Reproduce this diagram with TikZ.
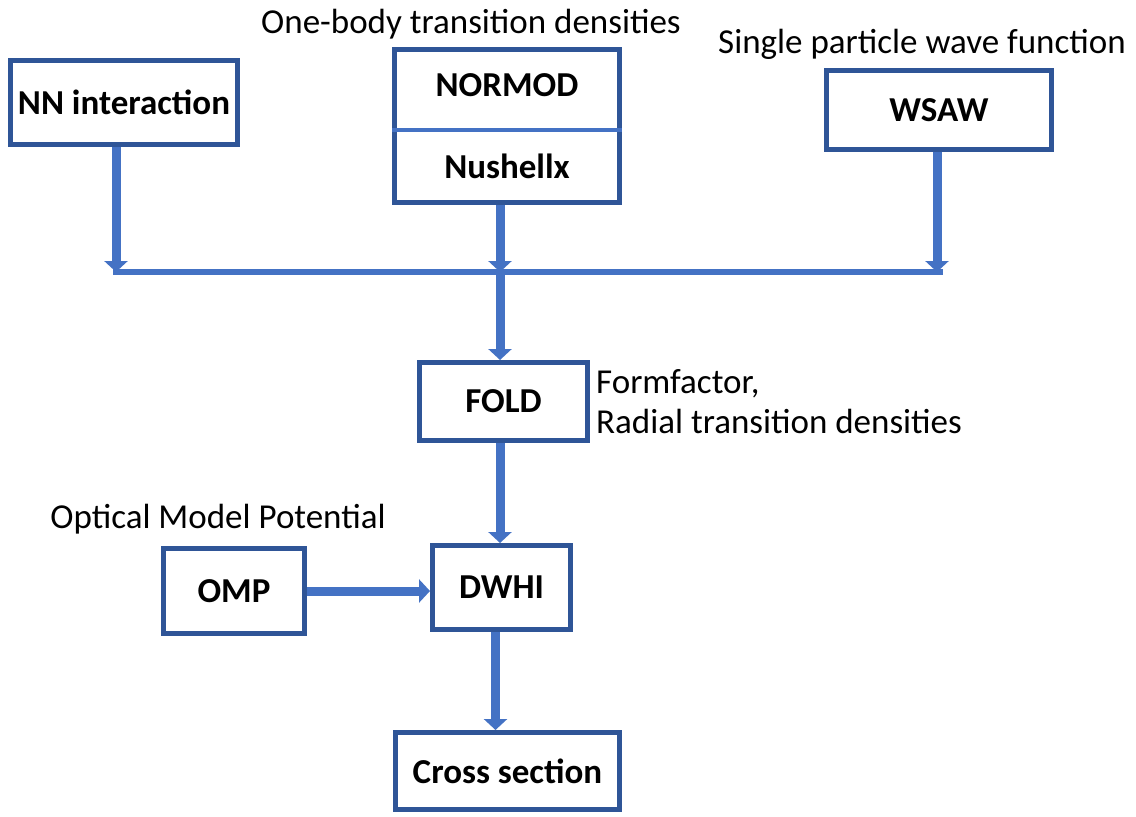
\documentclass[tikz,border=0pt]{standalone}
\usepackage{fontspec}
\setmainfont{Carlito}
\usepackage{xcolor}
\usetikzlibrary{arrows.meta,positioning,calc}
\definecolor{boxline}{HTML}{2F5597}
\definecolor{pipeblue}{HTML}{4472C4}

\begin{document}
\begin{tikzpicture}[
  x=1pt,
  y=-1pt,
  pipe/.style={draw=pipeblue,line width=9pt,
    -{Triangle[width=23pt,length=11pt]}},
  bus/.style={draw=pipeblue,line width=5.5pt},
  codebox/.style={draw=boxline,line width=5pt,fill=white,align=center,
    inner sep=0pt,font=\fontsize{35}{42}\selectfont\bfseries},
  note/.style={inner sep=0pt,align=left,font=\fontsize{35}{40}\selectfont}
]
\useasboundingbox (0,0) rectangle (1136,817);

\node[codebox,minimum width=227,minimum height=84] (nn) at (124,102.5)
  {NN interaction};
\node[codebox,minimum width=225,minimum height=153] (normod) at (507,126)
  {NORMOD\\[40pt]Nushellx};
\node[codebox,minimum width=225,minimum height=79] (wsaw) at (939,110)
  {WSAW};
\node[codebox,minimum width=168,minimum height=78] (fold) at (503.5,401.5)
  {FOLD};
\node[codebox,minimum width=141,minimum height=85] (omp) at (234,591)
  {OMP};
\node[codebox,minimum width=138,minimum height=84] (dwhi) at (501.5,587.5)
  {DWHI};
\node[codebox,minimum width=224,minimum height=77] (cross) at (507.5,771)
  {Cross section};

\node[note,above=8pt of normod,xshift=-36pt] (onebody)
  {One-body transition densities};
\node[note,above=8pt of wsaw,xshift=-17pt] (spwf)
  {Single particle wave function};
\node[note,right=6pt of fold] (formlab)
  {Formfactor,\\Radial transition densities};
\node[note,above=12pt of omp,xshift=-16pt] (optlab)
  {Optical Model Potential};

\draw[draw=pipeblue,line width=4pt]
  ([yshift=-4pt]normod.west) -- ([yshift=-4pt]normod.east);

\coordinate (busL) at (116,272);
\coordinate (busM) at (500,272);
\coordinate (busR) at (937,272);

\draw[bus] ([xshift=-3pt]busL) -- ([xshift=6pt]busR);
\draw[pipe] (nn.south -| busL) -- (busL);
\draw[pipe] (normod.south -| busM) -- (busM);
\draw[pipe] (wsaw.south -| busR) -- (busR);
\draw[pipe] (busM) -- (fold.north -| busM);
\draw[pipe] (fold.south -| busM) -- (dwhi.north -| busM);
\draw[pipe] (omp.east) -- (omp.east -| dwhi.west);
\draw[pipe] ([xshift=-6pt]dwhi.south) -- ([xshift=-6pt]dwhi.south |- cross.north);

\end{tikzpicture}
\end{document}
